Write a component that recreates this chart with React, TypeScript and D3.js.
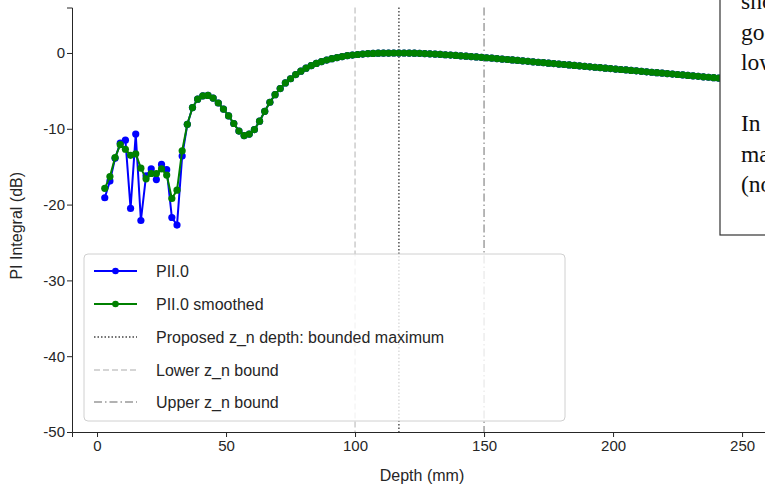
import React, { useEffect, useRef } from "react";
import * as d3 from "d3";

// Depth samples (mm)
const depthMm = [
  3, 5, 7, 9, 11, 13, 15, 17, 19, 21, 23, 25, 27, 29, 31, 33, 35, 37, 39, 41,
  43, 45, 47, 49, 51, 53, 55, 57, 59, 61, 63, 65, 67, 69, 71, 73, 75, 77, 79, 81,
  83, 85, 87, 89, 91, 93, 95, 97, 99, 101, 103, 105, 107, 109, 111, 113, 115, 117, 119, 121,
  123, 125, 127, 129, 131, 133, 135, 137, 139, 141, 143, 145, 147, 149, 151, 153, 155, 157, 159, 161,
  163, 165, 167, 169, 171, 173, 175, 177, 179, 181, 183, 185, 187, 189, 191, 193, 195, 197, 199, 201,
  203, 205, 207, 209, 211, 213, 215, 217, 219, 221, 223, 225, 227, 229, 231, 233, 235, 237, 239, 241,
  243, 245, 247, 249, 251, 253, 255, 257, 259,
];

// PII.0 smoothed (dB)
const piiSmoothed = [
  -17.85, -16.3, -13.8, -12.1, -12.7, -13.5, -13.3, -15.2, -16.6, -15.9,
  -15.9, -15.3, -16.1, -19.2, -18.1, -12.9, -9.4, -7.2, -6.1, -5.65,
  -5.6, -5.95, -6.6, -7.4, -8.3, -9.3, -10.3, -10.9, -10.7, -10.1,
  -9.0, -7.7, -6.5, -5.5, -4.7, -3.95, -3.4, -2.85, -2.4, -2.0,
  -1.67, -1.38, -1.14, -0.93, -0.75, -0.6, -0.47, -0.36, -0.27, -0.2,
  -0.14, -0.09, -0.06, -0.03, -0.02, -0.01, 0, 0, 0, -0.01,
  -0.03, -0.05, -0.08, -0.11, -0.15, -0.19, -0.23, -0.27, -0.32, -0.37,
  -0.42, -0.47, -0.52, -0.57, -0.63, -0.68, -0.74, -0.8, -0.86, -0.92,
  -0.98, -1.04, -1.1, -1.16, -1.22, -1.28, -1.34, -1.4, -1.46, -1.52,
  -1.58, -1.64, -1.7, -1.76, -1.82, -1.88, -1.94, -2.0, -2.06, -2.12,
  -2.18, -2.24, -2.3, -2.36, -2.42, -2.48, -2.54, -2.6, -2.66, -2.72,
  -2.78, -2.84, -2.9, -2.96, -3.02, -3.08, -3.14, -3.2, -3.26, -3.32,
  -3.38, -3.44, -3.5, -3.56, -3.62, -3.68, -3.74, -3.8, -3.86,
];

// PII.0 raw (dB): noisy near-field part; deeper samples coincide with the smoothed curve
const piiRawNear = [
  -19.1, -16.9, -13.9, -11.9, -11.5, -20.5, -10.7, -22.1, -16.2, -15.3,
  -16.7, -14.7, -15.4, -21.7, -22.7, -13.6,
];
const piiRaw = [...piiRawNear, ...piiSmoothed.slice(piiRawNear.length)];

const xTicks = [0, 50, 100, 150, 200, 250];
const yTicks = [0, -10, -20, -30, -40, -50];

const zProposed = 117;
const zLower = 100;
const zUpper = 150;

const legendLabels = [
  "PII.0",
  "PII.0 smoothed",
  "Proposed z_n depth: bounded maximum",
  "Lower z_n bound",
  "Upper z_n bound",
];

const noteLines = [
  "should be a",
  "good choice for",
  "low attenuation.",
  "",
  "In this case the",
  "maximum was found",
  "(not at a bound).",
];

const SANS = "'Liberation Sans', Arial, sans-serif";
const SERIF = "'Liberation Serif', 'Times New Roman', serif";
const INK = "#262626";

export default function App() {
  const W = 765;
  const H = 487;
  const xAxisRef = useRef<SVGGElement>(null);
  const yAxisRef = useRef<SVGGElement>(null);

  const x = d3.scaleLinear().domain([-9.7, 261.6]).range([72, 772]);
  const y = d3.scaleLinear().domain([-50, 6]).range([432, 7.5]);

  useEffect(() => {
    const fmt = (d: d3.NumberValue) => String(d);
    if (xAxisRef.current) {
      const g = d3.select(xAxisRef.current);
      g.call(d3.axisBottom(x).tickValues(xTicks).tickSize(5).tickPadding(3).tickFormat(fmt));
      g.selectAll("text").attr("font-size", 15).attr("font-family", SANS).attr("fill", INK);
      g.selectAll("path,line").attr("stroke", INK);
    }
    if (yAxisRef.current) {
      const g = d3.select(yAxisRef.current);
      g.call(d3.axisLeft(y).tickValues(yTicks).tickSize(5).tickPadding(2).tickFormat(fmt));
      g.selectAll("text").attr("font-size", 15).attr("font-family", SANS).attr("fill", INK);
      g.selectAll("path,line").attr("stroke", INK);
    }
  });

  const pts = (vals: number[]) => depthMm.map((d, i) => [d, vals[i]] as [number, number]);
  const line = d3
    .line<[number, number]>()
    .x((p) => x(p[0]))
    .y((p) => y(p[1]));

  const rawPts = pts(piiRaw);
  const smoothPts = pts(piiSmoothed);

  const vlines = [
    { z: zLower, stroke: "#c8c8c8", dash: "6,3", width: 1.4 },
    { z: zProposed, stroke: "#444", dash: "1.5,2", width: 1.4 },
    { z: zUpper, stroke: "#999", dash: "8,3,1.5,3", width: 1.4 },
  ];

  const legX = 84;
  const legY = 254;
  const legW = 481;
  const legH = 167;
  const rowY = [271, 304, 337, 370, 402];

  return (
    <svg
      width={W}
      height={H}
      style={{ position: "absolute", left: 0, top: 0, display: "block", background: "#fff" }}
    >
      <rect x={0} y={0} width={W} height={H} fill="#fff" />

      {vlines.map((v, i) => (
        <line
          key={i}
          x1={x(v.z)}
          x2={x(v.z)}
          y1={y(6)}
          y2={y(-50)}
          stroke={v.stroke}
          strokeWidth={v.width}
          strokeDasharray={v.dash}
        />
      ))}

      <path d={line(rawPts) || ""} fill="none" stroke="#0000ff" strokeWidth={2} />
      {rawPts.map((p, i) => (
        <circle key={"r" + i} cx={x(p[0])} cy={y(p[1])} r={3.6} fill="#0000ff" />
      ))}
      <path d={line(smoothPts) || ""} fill="none" stroke="#008000" strokeWidth={2} />
      {smoothPts.map((p, i) => (
        <circle key={"s" + i} cx={x(p[0])} cy={y(p[1])} r={3.6} fill="#008000" />
      ))}

      <g ref={xAxisRef} transform={`translate(0,${y(-50)})`} />
      <g ref={yAxisRef} transform={`translate(${x(-9.7)},0)`} />

      <text
        x={(x(-9.7) + x(261.6)) / 2}
        y={481}
        textAnchor="middle"
        fontFamily={SANS}
        fontSize={16}
        fill={INK}
      >
        Depth (mm)
      </text>
      <text
        transform={`translate(22,${(y(6) + y(-50)) / 2 + 6}) rotate(-90)`}
        textAnchor="middle"
        fontFamily={SANS}
        fontSize={16}
        fill={INK}
      >
        PI Integral (dB)
      </text>

      <rect
        x={legX}
        y={legY}
        width={legW}
        height={legH}
        rx={4}
        fill="#fff"
        fillOpacity={0.8}
        stroke="#d0d0d0"
        strokeWidth={1}
      />
      {legendLabels.map((lab, i) => {
        const cy = rowY[i];
        let sample;
        if (i === 0 || i === 1) {
          const c = i === 0 ? "#0000ff" : "#008000";
          sample = (
            <g>
              <line x1={94} x2={137} y1={cy} y2={cy} stroke={c} strokeWidth={2} />
              <circle cx={115.5} cy={cy} r={3.3} fill={c} />
            </g>
          );
        } else {
          const v = vlines[i === 2 ? 1 : i === 3 ? 0 : 2];
          sample = (
            <line
              x1={94}
              x2={137}
              y1={cy}
              y2={cy}
              stroke={v.stroke}
              strokeWidth={v.width}
              strokeDasharray={v.dash}
            />
          );
        }
        return (
          <g key={i}>
            {sample}
            <text x={156} y={cy + 5.5} fontFamily={SANS} fontSize={16} fill={INK}>
              {lab}
            </text>
          </g>
        );
      })}

      <rect x={720} y={-5} width={120} height={240} fill="#fff" stroke="#333" strokeWidth={1.2} />
      {noteLines.map((t, i) => (
        <text key={i} x={741} y={9 + i * 30.5} fontFamily={SERIF} fontSize={23.5} fill="#111">
          {t}
        </text>
      ))}
    </svg>
  );
}
